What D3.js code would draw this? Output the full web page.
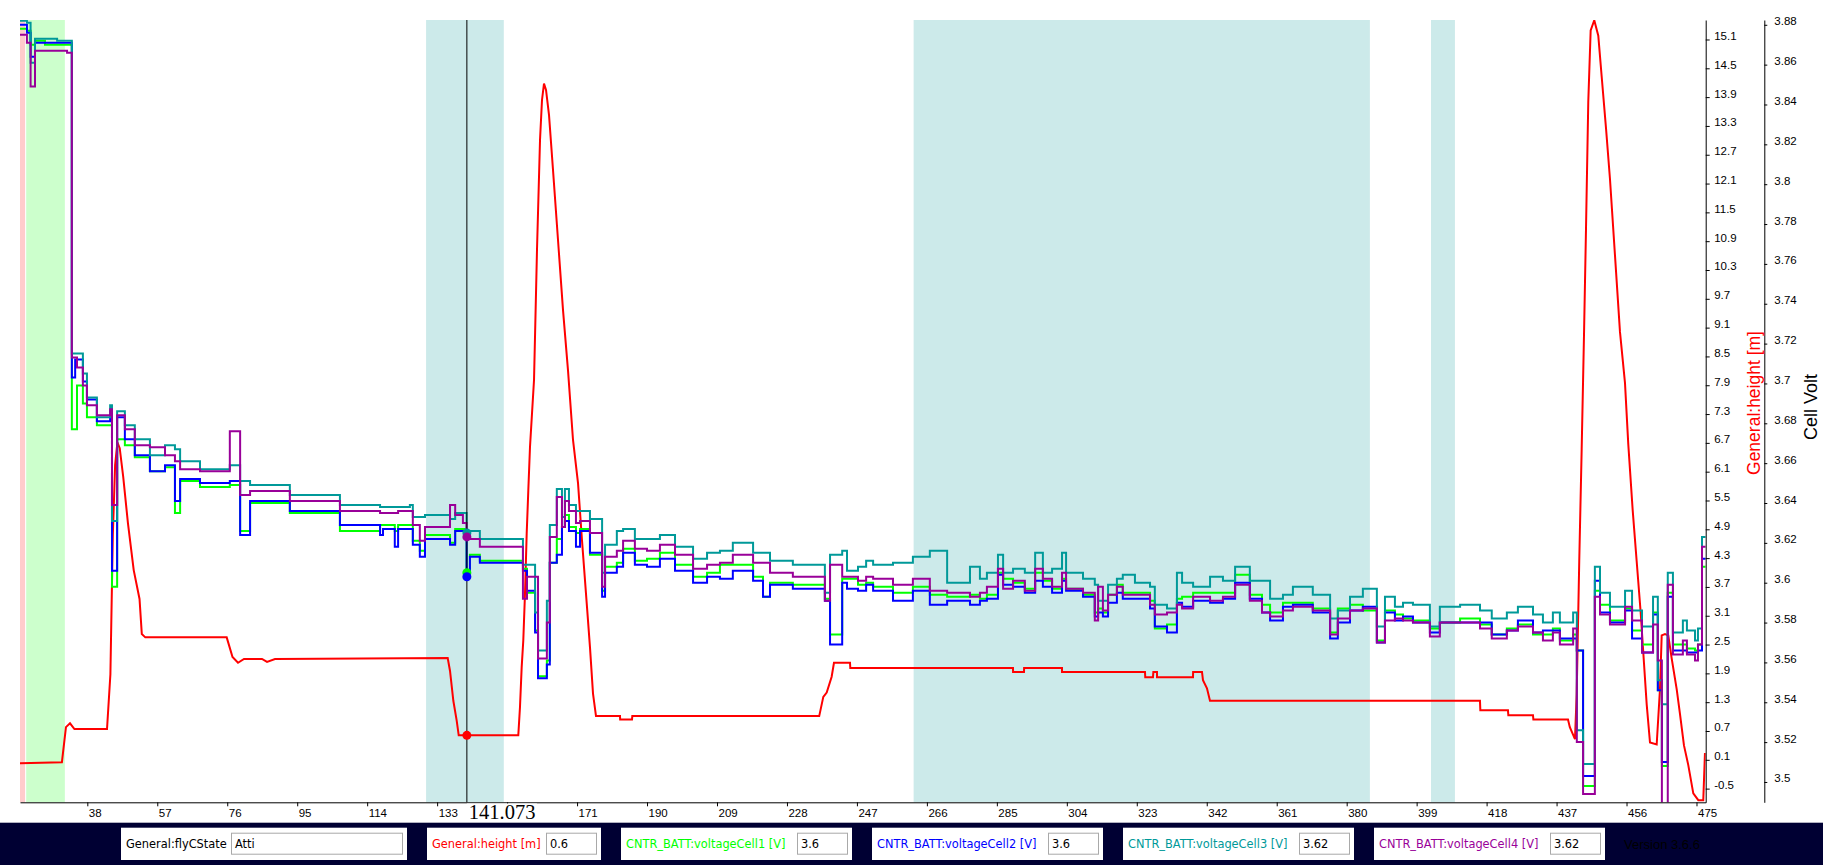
<!DOCTYPE html>
<html>
<head>
<meta charset="utf-8">
<script src="https://cdn.jsdelivr.net/npm/d3@7"></script>
<style>
    body { margin: 0; background: #fff; }
    svg text { font-family: "Liberation Sans", Arial, sans-serif; }
</style>
</head>
<body>
<div id="viz"></div>
<script>
// Tiempo (s) de cada cambio de escalón de las celdas
let tiempo = [
    19.7,21.6,22.6,23.8,26.5,29.8,32.5,33.8,34.7,35.2,36.8,37.9,40.6,
    44.2,44.7,46.1,48.2,50.9,55.0,59.1,61.8,63.2,68.6,76.7,79.5,82.2,93.0,106.6,
    117.5,118.3,121.5,122.4,125.6,126.4,128.3,129.7,136.5,137.9,140.0,141.0,141.9,144.6,
    156.3,157.4,159.6,160.4,162.8,163.6,165.5,166.9,167.7,168.8,170.7,171.8,174.5,177.8,178.6,181.8,183.5,186.7,190.0,193.5,
    197.6,202.5,206.3,209.8,213.3,218.8,221.5,223.4,229.6,238.3,239.7,243.0,244.3,247.3,249.5,251.4,256.8,262.2,266.8,271.5,
    277.7,280.4,282.3,285.3,286.7,289.4,292.6,295.4,297.5,300.0,302.7,303.8,308.4,311.6,312.5,313.8,315.2,317.6,319.2,322.5,
    326.6,327.9,331.2,333.9,335.3,338.3,342.9,346.4,349.7,353.7,357.0,359.2,362.7,365.4,370.8,375.5,377.6,380.9,384.4,388.2,
    390.4,393.1,395.3,398.0,402.6,405.3,410.8,416.2,419.4,423.5,426.5,430.6,433.3,436.0,437.9,441.5,442.5,444.2,447.4,448.8,
    451.5,455.6,457.5,460.2,463.2,464.5,465.6,467.2,468.6,471.3,472.4,474.6,475.4,476.5,
    477.5
];

// CNTR_BATT:voltageCell1 [V]
let celda1 = [
    3.878,3.877,3.870,3.872,3.870,3.870,3.870,3.677,3.677,3.699,3.690,3.683,3.679,
    3.679,3.598,3.672,3.669,3.663,3.656,3.658,3.635,3.651,3.648,3.649,3.626,3.640,3.635,3.626,
    3.629,3.629,3.626,3.629,3.629,3.621,3.616,3.624,3.620,3.627,3.627,3.605,3.614,3.611,
    3.607,3.595,3.576,3.553,3.561,3.610,3.622,3.628,3.634,3.628,3.625,3.627,3.614,3.596,3.608,3.610,3.617,3.611,3.612,3.615,
    3.609,3.603,3.605,3.609,3.609,3.603,3.593,3.600,3.599,3.592,3.574,3.602,3.602,3.599,3.600,3.598,3.595,3.598,3.594,3.593,
    3.594,3.592,3.594,3.605,3.602,3.600,3.597,3.605,3.601,3.597,3.602,3.597,3.594,3.585,3.587,3.585,3.594,3.599,3.595,3.595,
    3.591,3.577,3.579,3.592,3.593,3.595,3.595,3.595,3.604,3.594,3.589,3.585,3.590,3.590,3.587,3.575,3.587,3.589,3.586,3.571,
    3.586,3.584,3.582,3.581,3.577,3.580,3.582,3.579,3.574,3.577,3.579,3.574,3.574,3.577,3.571,3.574,3.566,3.498,3.596,3.589,
    3.581,3.587,3.576,3.569,3.585,3.546,3.508,3.595,3.569,3.569,3.567,3.566,3.569,3.608,
    3.608
];

// CNTR_BATT:voltageCell2 [V]
let celda2 = [
    3.880,3.876,3.864,3.871,3.871,3.871,3.871,3.703,3.712,3.712,3.701,3.692,3.681,
    3.684,3.606,3.683,3.672,3.664,3.656,3.659,3.641,3.652,3.650,3.651,3.624,3.641,3.636,3.629,
    3.624,3.627,3.618,3.627,3.627,3.619,3.613,3.622,3.619,3.626,3.626,3.603,3.613,3.610,
    3.606,3.596,3.575,3.552,3.559,3.610,3.614,3.628,3.631,3.626,3.618,3.626,3.615,3.593,3.605,3.608,3.615,3.609,3.608,3.612,
    3.606,3.600,3.603,3.602,3.606,3.601,3.593,3.599,3.597,3.591,3.569,3.600,3.597,3.596,3.599,3.596,3.591,3.596,3.589,3.591,
    3.589,3.591,3.592,3.604,3.599,3.598,3.595,3.601,3.598,3.595,3.601,3.596,3.593,3.583,3.585,3.583,3.590,3.595,3.592,3.592,
    3.587,3.578,3.575,3.590,3.588,3.591,3.590,3.592,3.600,3.592,3.585,3.581,3.588,3.589,3.585,3.572,3.580,3.586,3.588,3.570,
    3.585,3.581,3.583,3.580,3.575,3.580,3.580,3.580,3.574,3.576,3.581,3.575,3.576,3.576,3.572,3.572,3.566,3.503,3.601,3.585,
    3.580,3.586,3.572,3.565,3.584,3.546,3.510,3.593,3.566,3.566,3.565,3.565,3.566,3.612,
    3.612
];

// CNTR_BATT:voltageCell3 [V]
let celda3 = [
    3.882,3.881,3.861,3.873,3.873,3.872,3.872,3.715,3.715,3.715,3.705,3.693,3.683,
    3.689,3.631,3.686,3.679,3.672,3.664,3.669,3.667,3.661,3.657,3.659,3.651,3.649,3.644,3.639,
    3.638,3.638,3.638,3.638,3.639,3.633,3.633,3.634,3.632,3.635,3.635,3.625,3.626,3.622,
    3.609,3.609,3.585,3.566,3.591,3.629,3.647,3.633,3.647,3.639,3.636,3.636,3.632,3.605,3.619,3.626,3.627,3.622,3.622,3.624,
    3.618,3.612,3.615,3.616,3.620,3.615,3.615,3.611,3.609,3.595,3.614,3.616,3.606,3.608,3.611,3.609,3.610,3.613,3.616,3.600,
    3.608,3.602,3.605,3.614,3.605,3.607,3.605,3.615,3.605,3.607,3.615,3.605,3.602,3.599,3.591,3.591,3.599,3.602,3.604,3.600,
    3.598,3.589,3.587,3.605,3.600,3.598,3.603,3.601,3.608,3.601,3.601,3.592,3.594,3.598,3.594,3.582,3.586,3.593,3.597,3.578,
    3.593,3.588,3.590,3.589,3.578,3.588,3.589,3.586,3.582,3.585,3.588,3.584,3.580,3.585,3.580,3.585,3.526,3.509,3.608,3.595,
    3.588,3.596,3.586,3.578,3.593,3.551,3.539,3.605,3.575,3.581,3.576,3.571,3.577,3.623,
    3.623
];

// CNTR_BATT:voltageCell4 [V]
let celda4 = [
    3.875,3.871,3.849,3.867,3.867,3.867,3.866,3.713,3.713,3.708,3.699,3.689,3.684,
    3.687,3.639,3.684,3.677,3.669,3.668,3.664,3.661,3.657,3.656,3.676,3.644,3.646,3.641,3.636,
    3.635,3.635,3.635,3.636,3.636,3.629,3.621,3.628,3.639,3.634,3.630,3.623,3.622,3.618,
    3.592,3.603,3.603,3.562,3.580,3.623,3.643,3.628,3.641,3.636,3.630,3.631,3.625,3.598,3.613,3.616,3.621,3.617,3.616,3.619,
    3.614,3.607,3.609,3.610,3.614,3.610,3.610,3.605,3.603,3.591,3.609,3.603,3.603,3.601,3.603,3.602,3.599,3.602,3.596,3.595,
    3.593,3.595,3.598,3.607,3.597,3.601,3.596,3.607,3.602,3.598,3.605,3.597,3.595,3.581,3.598,3.586,3.594,3.598,3.594,3.594,
    3.589,3.584,3.585,3.589,3.587,3.593,3.591,3.593,3.599,3.591,3.585,3.583,3.586,3.588,3.586,3.574,3.582,3.586,3.587,3.570,
    3.581,3.582,3.581,3.580,3.573,3.580,3.580,3.577,3.572,3.576,3.578,3.575,3.571,3.575,3.569,3.577,3.520,3.494,3.593,3.584,
    3.579,3.588,3.581,3.565,3.579,3.561,3.486,3.599,3.564,3.571,3.564,3.561,3.569,3.618,
    3.618
];

// General:height [m]
let alturaTiempo = [
    19.7,31.1,32.2,33.3,34.5,43.35,44.27,44.93,45.55,46.17,46.8,47.75,49.03,50.6,52.18,52.8,53.75,75.85,77.43,78.92,
    80.55,85.44,86.8,88.97,135.87,136.5,137.4,138.3,138.86,155.04,155.5,155.96,156.4,156.86,157.32,157.76,158.22,159.31,160.12,160.94,
    161.48,162.02,162.57,163.38,164.47,165.82,167.18,168.54,169.9,171.26,172.34,173.7,174.51,175.33,176.14,182.66,182.7,185.92,186.0,236.76,
    237.87,238.79,240.14,240.77,245.12,245.2,289.38,289.4,292.37,292.4,302.69,302.7,325.23,325.3,327.4,327.5,328.49,328.5,338.27,338.3,
    340.71,340.98,342.06,342.88,416.2,416.3,423.8,423.9,430.6,430.7,440.1,440.6,442.0,442.46,443.16,443.82,444.44,444.99,445.61,446.26,
    447.24,448.33,449.25,450.42,451.5,452.86,454.22,455.58,456.47,457.67,458.75,459.84,460.74,461.47,462.37,464.19,465.08,465.55,466.44,467.34,
    468.26,469.62,470.52,471.6,472.77,474.13,475.49,476.84,477.3
];
let altura = [
    0.03,0.05,0.78,0.86,0.74,0.74,1.88,4.78,6.24,6.71,6.59,5.99,5.03,4.05,3.45,2.72,2.65,2.65,2.24,2.12,
    2.2,2.2,2.14,2.2,2.22,1.95,1.33,0.92,0.61,0.61,1.2,2.03,2.59,3.56,4.81,5.71,6.62,8.01,10.72,13.01,
    13.84,14.18,14.05,13.53,12.38,10.93,9.47,8.21,6.76,5.86,4.67,3.28,2.44,1.48,1.01,1.01,0.94,0.94,1.01,1.01,
    1.41,1.5,1.83,2.12,2.12,2.01,2.01,1.93,1.93,2.01,2.01,1.93,1.93,1.82,1.82,1.93,1.93,1.82,1.82,1.93,
    1.93,1.76,1.59,1.33,1.33,1.13,1.13,1.03,1.03,0.94,0.94,0.78,0.53,1.46,4.24,6.57,8.91,11.14,13.8,15.29,
    15.5,15.18,14.33,13.26,12.2,10.61,9.01,7.95,6.68,5.3,4.24,3.17,2.11,1.26,0.46,0.42,1.57,2.69,2.72,2.69,
    2.21,1.57,1.05,0.4,-0.01,-0.6,-0.74,-0.74,0.24
];

// General:flyCState (bandas de fondo)
let bandaInicio = [19.72, 21.4, 130.0, 262.4, 402.9];
let bandaFin    = [21.1, 31.9, 151.1, 386.3, 409.4];
let bandaEstado = ['Estado1', 'Estado2', 'Atti', 'Atti', 'Atti'];

// Ticks de los ejes
let ticksX = d3.range(0, 24).map(i => 38 + 19 * i);
let ticksAltura = d3.range(0, 27).map(i => +(-0.5 + 0.6 * i).toFixed(1));
let ticksVolt = d3.range(0, 20).map(i => +(3.5 + 0.02 * i).toFixed(2));

// Cursor y leyenda inferior
let cursorTiempo = 141.073;
let leyendaNombres = ['General:flyCState', 'General:height [m]', 'CNTR_BATT:voltageCell1 [V]',
    'CNTR_BATT:voltageCell2 [V]', 'CNTR_BATT:voltageCell3 [V]', 'CNTR_BATT:voltageCell4 [V]'];
let leyendaValores = ['Atti', '0.6', '3.6', '3.6', '3.62', '3.62'];
let version = 'Version 3.6.6';

// Dimensiones
let w = 1823;
let h = 865;
let izq = 20, der = 1705.7, sup = 20, inf = 802.3;

let coloresEstado = { 'Estado1': '#ffcccc', 'Estado2': '#ccffcc', 'Atti': '#cceaea' };
let colorCelda = ['#00ff00', '#0000ff', '#009999', '#990099'];
let colorAltura = '#ff0000';

let svg = d3.select('#viz')
    .append('svg')
        .attr('width', w)
        .attr('height', h)
        .style('display', 'block');

svg.append('rect').attr('width', w).attr('height', h).attr('fill', '#fff');

// Escalas
let x = d3.scaleLinear().domain([19.72, 477.5]).range([izq, der]);
let yAltura = d3.scaleLinear().domain([-0.785, 15.506]).range([inf, sup]);
let yVolt = d3.scaleLinear().domain([3.4898, 3.8824]).range([inf, sup]);

svg.append('clipPath').attr('id', 'zona')
    .append('rect')
        .attr('x', izq).attr('y', sup)
        .attr('width', der - izq).attr('height', inf - sup);

// Bandas de estado de vuelo
svg.append('g').selectAll('rect')
    .data(d3.range(bandaInicio.length))
    .enter().append('rect')
        .attr('x', i => x(bandaInicio[i]))
        .attr('width', i => x(bandaFin[i]) - x(bandaInicio[i]))
        .attr('y', sup)
        .attr('height', inf - sup)
        .attr('fill', i => coloresEstado[bandaEstado[i]]);

let zona = svg.append('g').attr('clip-path', 'url(#zona)');

// Línea de altura
let lineaAltura = d3.line()
    .x((d, i) => x(alturaTiempo[i]))
    .y(d => yAltura(d));
zona.append('path')
    .attr('d', lineaAltura(altura))
    .attr('fill', 'none')
    .attr('stroke', colorAltura)
    .attr('stroke-width', 2);

// Líneas de voltaje por celda (escalones)
let celdas = [celda1, celda2, celda3, celda4];
let lineaVolt = d3.line()
    .x((d, i) => x(tiempo[i]))
    .y(d => yVolt(d))
    .curve(d3.curveStepAfter);
celdas.forEach(function(serie, k) {
    zona.append('path')
        .attr('d', lineaVolt(serie.slice(0, tiempo.length)))
        .attr('fill', 'none')
        .attr('stroke', colorCelda[k])
        .attr('stroke-width', 2);
});

// Cursor (posición y ancho de su etiqueta)
let xc = x(cursorTiempo);
let anchoEtiqueta = 70;

// Eje X
let ejeX = svg.append('g')
    .attr('transform', `translate(0,${inf})`)
    .call(d3.axisBottom(x).tickValues(ticksX).tickSize(4).tickSizeOuter(0).tickFormat(d3.format('d')));
ejeX.selectAll('text')
    .attr('text-anchor', 'start')
    .attr('x', 1)
    .attr('y', 6)
    .attr('dy', '0.76em')
    .style('font-size', '11.5px')
    .attr('fill', '#000');
// La etiqueta del cursor tapa las marcas que quedan debajo de ella
ejeX.selectAll('.tick')
    .filter(d => x(d) > xc - 2 && x(d) < xc + anchoEtiqueta)
    .select('text').remove();

// Eje de altura
let ejeA = svg.append('g')
    .attr('transform', `translate(${der},0)`)
    .call(d3.axisRight(yAltura).tickValues(ticksAltura).tickSize(4).tickSizeOuter(0)
        .tickFormat(d => String(d)));
ejeA.selectAll('text')
    .attr('x', 8.5)
    .attr('dy', '0')
    .style('font-size', '11.5px')
    .attr('fill', '#000');

// Eje de voltaje
let ejeV = svg.append('g')
    .attr('transform', `translate(1764.3,0)`)
    .call(d3.axisRight(yVolt).tickValues(ticksVolt).tickSize(3).tickSizeOuter(0)
        .tickFormat(d => String(d)));
ejeV.selectAll('text')
    .attr('x', 10)
    .attr('dy', '0')
    .style('font-size', '11.5px')
    .attr('fill', '#000');

svg.selectAll('.domain').attr('stroke', '#000');
svg.selectAll('.tick line').attr('stroke', '#000');

// Títulos de los ejes
svg.append('text')
    .attr('transform', 'translate(1754,403) rotate(-90)')
    .attr('text-anchor', 'middle')
    .attr('dominant-baseline', 'central')
    .style('font-size', '17.5px')
    .attr('fill', colorAltura)
    .text('General:height [m]');
svg.append('text')
    .attr('transform', 'translate(1811,407) rotate(-90)')
    .attr('text-anchor', 'middle')
    .attr('dominant-baseline', 'central')
    .style('font-size', '18px')
    .attr('fill', '#000')
    .text('Cell Volt');

// Línea del cursor
svg.append('line')
    .attr('x1', xc).attr('x2', xc)
    .attr('y1', sup).attr('y2', inf)
    .attr('stroke', '#000').attr('stroke-width', 1);

let idx = d3.bisectRight(tiempo, cursorTiempo) - 1;
let ia = d3.bisectRight(alturaTiempo, cursorTiempo) - 1;
let fa = (cursorTiempo - alturaTiempo[ia]) / (alturaTiempo[ia + 1] - alturaTiempo[ia]);
let alturaCursor = altura[ia] + fa * (altura[ia + 1] - altura[ia]);

svg.append('circle')
    .attr('cx', xc).attr('cy', yAltura(alturaCursor)).attr('r', 4.5)
    .attr('fill', colorAltura);
celdas.forEach(function(serie, k) {
    svg.append('circle')
        .attr('cx', xc).attr('cy', yVolt(serie[idx])).attr('r', 4.5)
        .attr('fill', colorCelda[k]);
});

svg.append('rect')
    .attr('x', xc).attr('y', 803.5)
    .attr('width', anchoEtiqueta).attr('height', 20)
    .attr('fill', '#fff');
svg.append('text')
    .attr('x', xc + 2).attr('y', 819)
    .style('font-family', '"Liberation Serif", "Times New Roman", serif')
    .style('font-size', '20.5px')
    .attr('fill', '#000')
    .text(cursorTiempo.toFixed(3));

// Barra inferior con valores
svg.append('rect')
    .attr('x', 0).attr('y', 822.7)
    .attr('width', w).attr('height', h - 822.7)
    .attr('fill', '#000033');

let cajaX = [121, 427, 621, 872, 1123, 1374];
let cajaW = [286, 174, 231, 231, 231, 231];
let entradaW = [171, 50, 50, 50, 50, 50];
let colorLeyenda = ['#000000', colorAltura].concat(colorCelda);

leyendaNombres.forEach(function(nombre, i) {
    let g = svg.append('g');
    g.append('rect')
        .attr('x', cajaX[i]).attr('y', 827.7)
        .attr('width', cajaW[i]).attr('height', 32.3)
        .attr('fill', '#fff');
    g.append('text')
        .attr('x', cajaX[i] + 5).attr('y', 848.3)
        .style('font-family', '"DejaVu Sans", Verdana, sans-serif')
        .style('font-size', '11.4px')
        .attr('fill', colorLeyenda[i])
        .text(nombre);
    let ex = cajaX[i] + cajaW[i] - 5 - entradaW[i];
    g.append('rect')
        .attr('x', ex + 0.5).attr('y', 833.2)
        .attr('width', entradaW[i]).attr('height', 21)
        .attr('fill', '#fff')
        .attr('stroke', '#a9a9a9');
    g.append('text')
        .attr('x', ex + 4).attr('y', 848.3)
        .style('font-family', '"DejaVu Sans", Verdana, sans-serif')
        .style('font-size', '11.4px')
        .attr('fill', '#000')
        .text(leyendaValores[i]);
});

svg.append('text')
    .attr('x', 1624).attr('y', 849)
    .style('font-size', '13px')
    .attr('fill', '#000')
    .text(version);
</script>
</body>
</html>
